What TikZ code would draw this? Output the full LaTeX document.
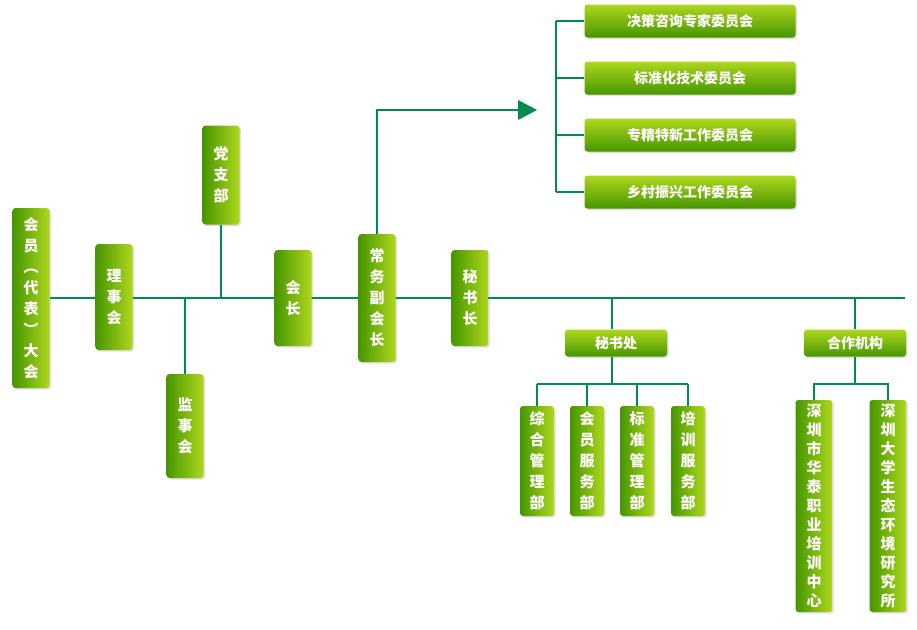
\documentclass[tikz,border=0pt]{standalone}
\usepackage{fontspec}
\newfontfamily\cjk{Noto Sans CJK SC}
\usetikzlibrary{shadows}
\definecolor{gdark}{RGB}{70,150,0}
\definecolor{glight}{RGB}{175,215,30}
\definecolor{ln}{RGB}{0,140,80}
\tikzset{
 vbox/.style={rounded corners=3pt,left color=gdark,right color=glight,text=white,font=\cjk\bfseries\fontsize{15}{21}\selectfont,minimum width=37pt,align=center,inner sep=0pt,drop shadow={opacity=0.25,shadow xshift=1.5pt,shadow yshift=-1.5pt}},
 hbox/.style={rounded corners=3pt,top color=glight,bottom color=gdark,text=white,font=\cjk\bfseries\fontsize{14}{16}\selectfont,inner sep=0pt,drop shadow={opacity=0.25,shadow xshift=1.5pt,shadow yshift=-1.5pt}},
 conn/.style={draw=ln,line width=2pt},
}
\begin{document}
\begin{tikzpicture}[x=1pt,y=-1pt]
\useasboundingbox (0,0) rectangle (917,629);
% main line
\coordinate (L0) at (50,298); \coordinate (L1) at (905,298);
\draw[conn] (L0) -- (L1);
% vertical nodes on main line
\node[vbox,minimum height=180pt] (hy) at (31,298) {会\\员\\︵\\代\\表\\︶\\大\\会};
\node[vbox,minimum height=106pt] (lsh) at (114,297) {理\\事\\会};
\node[vbox,minimum height=99pt] (dzb) at (221,175) {党\\支\\部};
\node[vbox,minimum height=104pt] (jsh) at (185,426) {监\\事\\会};
\node[vbox,minimum height=96pt] (hz) at (293,298) {会\\长};
\node[vbox,minimum height=128pt] (cw) at (377,298) {常\\务\\副\\会\\长};
\node[vbox,minimum height=96pt] (msz) at (470,298) {秘\\书\\长};
\draw[conn] (dzb.south) -- (dzb.south |- L0);
\draw[conn] (jsh.north) -- (jsh.north |- L0);
% committees
\node[hbox,minimum width=211pt,minimum height=33pt] (c1) at (690,21) {决策咨询专家委员会};
\node[hbox,minimum width=211pt,minimum height=33pt] (c2) at (690,78) {标准化技术委员会};
\node[hbox,minimum width=211pt,minimum height=33pt] (c3) at (690,135) {专精特新工作委员会};
\node[hbox,minimum width=211pt,minimum height=33pt] (c4) at (690,192) {乡村振兴工作委员会};
\coordinate (bt) at (556,21); \coordinate (bb) at (556,192);
\draw[conn] (bt) -- (bb);
\foreach \c in {c1,c2,c3,c4} \draw[conn] (\c.west) -- (\c.west -| bt);
\coordinate (ar) at (537,110);
\draw[conn] (cw.north) |- (520,110);
\fill[ln] (ar) -- (518,100) -- (518,120) -- cycle;
% secretariat
\node[hbox,minimum width=102pt,minimum height=27pt] (msc) at (616,343) {秘书处};
\node[hbox,minimum width=102pt,minimum height=27pt] (hz2) at (855,343) {合作机构};
\draw[conn] (msc.north -| 612,0) -- (612,298);
\draw[conn] (hz2.north) -- (hz2.north |- L0);
\foreach \n/\x/\t in {d1/537/综\\合\\管\\理\\部, d2/587/会\\员\\服\\务\\部, d3/637/标\\准\\管\\理\\部, d4/688/培\\训\\服\\务\\部}
 \node[vbox,minimum width=34pt,minimum height=110pt] (\n) at (\x,461) {\t};
\draw[conn] (d1.north |- 0,384) -- (d4.north |- 0,384);
\draw[conn] (612,357) -- (612,384);
\foreach \n in {d1,d2,d3,d4} \draw[conn] (\n.north) -- (\n.north |- 0,384);
\node[vbox,minimum width=37pt,minimum height=212pt,font=\cjk\bfseries\fontsize{15}{19}\selectfont] (s1) at (814,506) {深\\圳\\市\\华\\泰\\职\\业\\培\\训\\中\\心};
\node[vbox,minimum width=37pt,minimum height=212pt,font=\cjk\bfseries\fontsize{15}{19}\selectfont] (s2) at (888,506) {深\\圳\\大\\学\\生\\态\\环\\境\\研\\究\\所};
\draw[conn] (s1.north) |- (855,384) -| (s2.north);
\draw[conn] (hz2.south) -- (855,384);
\end{tikzpicture}
\end{document}
